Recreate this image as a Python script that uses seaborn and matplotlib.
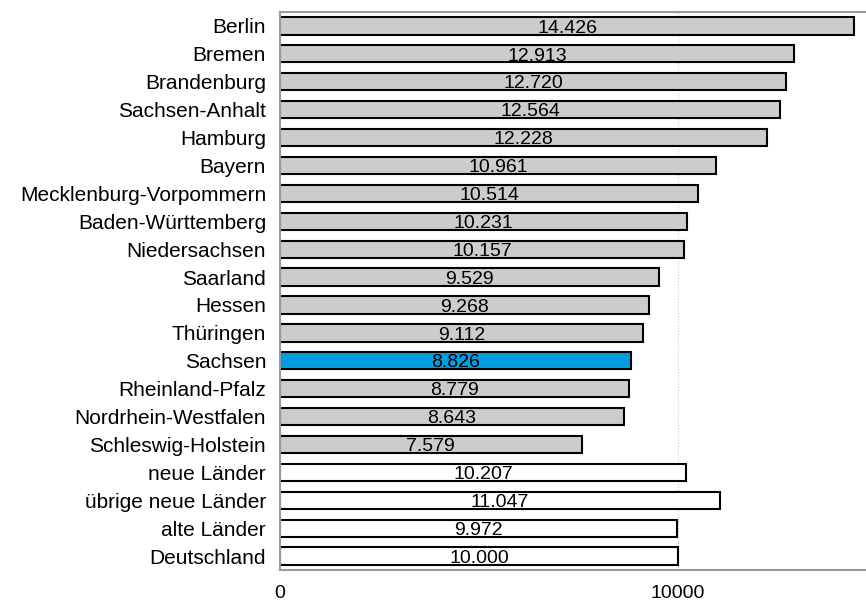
import seaborn as sns
import pandas as pd
import matplotlib.pyplot as plt
from matplotlib import use

use('agg')

laender = ['Berlin', 'Bremen', 'Brandenburg', 'Sachsen-Anhalt', 'Hamburg', 'Bayern',
           'Mecklenburg-Vorpommern', 'Baden-Württemberg', 'Niedersachsen', 'Saarland',
           'Hessen', 'Thüringen', 'Sachsen', 'Rheinland-Pfalz', 'Nordrhein-Westfalen',
           'Schleswig-Holstein', 'neue Länder', 'übrige neue Länder', 'alte Länder',
           'Deutschland']
werte = [14426, 12913, 12720, 12564, 12228, 10961, 10514, 10231, 10157, 9529,
         9268, 9112, 8826, 8779, 8643, 7579, 10207, 11047, 9972, 10000]
gruppe = ['land'] * 12 + ['sachsen'] + ['land'] * 3 + ['aggregat'] * 4

df = pd.DataFrame({'land': laender, 'wert': werte, 'gruppe': gruppe})
farben = {'land': '#cccccc', 'sachsen': '#009ee0', 'aggregat': '#ffffff'}

sns.set_theme(style='white')
plt.rcParams['font.family'] = ['Liberation Sans', 'DejaVu Sans']

fig = plt.figure(figsize=(8.66, 6.06), dpi=100)
ax = fig.add_axes([0.3233, 0.0594, 0.6767, 0.9208])

sns.barplot(data=df, y='land', x='wert', hue='gruppe', palette=farben, dodge=False,
            orient='h', width=0.62, saturation=1, edgecolor='black', linewidth=1.5,
            legend=False, ax=ax)

for i, v in enumerate(werte):
    ax.text(v / 2, i + 0.08, f'{v:,}'.replace(',', '.'), ha='center', va='center',
            fontsize=14, color='black')

ax.set_xlim(0, 14724)
ax.set_ylim(len(laender) - 0.5, -0.5)
ax.set_xticks([0, 10000])
ax.set_xticklabels(['0', '10000'], fontsize=14, color='black')
ax.set_yticks(range(len(laender)))
ax.set_yticklabels(laender, fontsize=15, color='black')
ax.set_yticks([i + 0.5 for i in range(-1, len(laender))], minor=True)
ax.tick_params(axis='y', which='major', length=0, pad=10)
ax.tick_params(axis='y', which='minor', length=5, color='#888888', width=1)
ax.tick_params(axis='x', length=5, color='#888888', width=1, pad=6)
ax.axvline(10000, color='#cccccc', linestyle=':', linewidth=0.8, zorder=0)
ax.set_xlabel('')
ax.set_ylabel('')
for s in ['top', 'left', 'bottom']:
    ax.spines[s].set_color('#999999')
    ax.spines[s].set_linewidth(1.5)
ax.spines['right'].set_visible(False)

plt.savefig('out.png', dpi=100)
